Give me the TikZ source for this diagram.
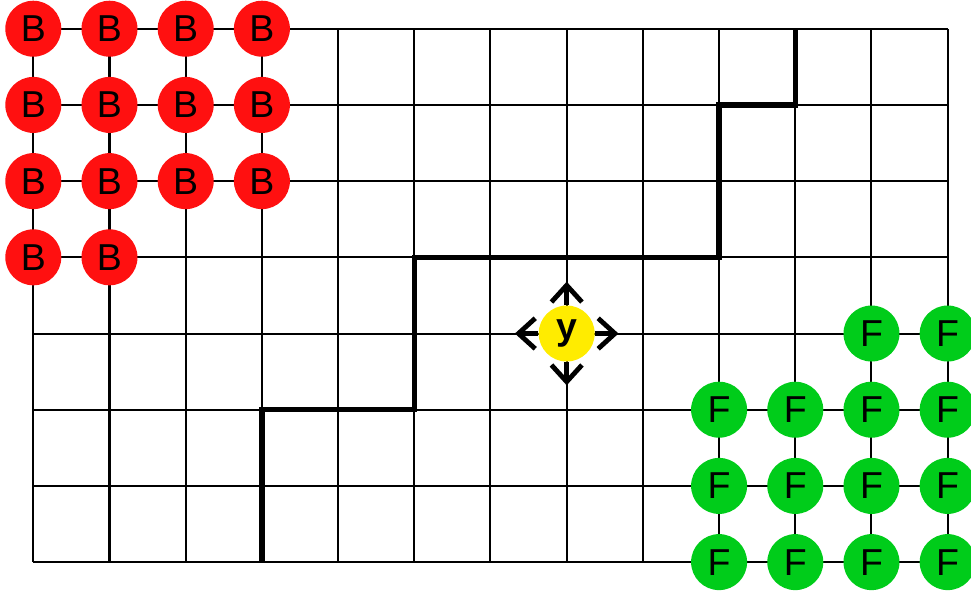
\documentclass[tikz,border=0pt]{standalone}
\usepackage{fontspec}
\setmainfont{Liberation Sans}
\usepackage{xcolor}
\usepackage{tikz}
\usetikzlibrary{arrows.meta}
\definecolor{bgred}{RGB}{255,16,16}
\definecolor{fggreen}{RGB}{0,204,26}
\definecolor{pyellow}{RGB}{255,236,0}
\tikzset{
  lattice/.style={line width=0.75pt, black},
  seed/.style={circle, inner sep=0pt, minimum size=7.35mm, font=\fontsize{14}{14}\selectfont},
  bseed/.style={seed, fill=bgred},
  fseed/.style={seed, fill=fggreen},
  probe/.style={seed, fill=pyellow, font=\fontsize{14}{14}\selectfont\bfseries},
  cut/.style={line width=2pt, line join=miter},
  move/.style={-{Straight Barb[length=2.2mm, width=4mm, line width=1.8pt]}, line width=2pt}
}
\begin{document}
\begin{tikzpicture}
    \useasboundingbox (-0.437,-0.394) rectangle (12.306,7.377);
    % pixel lattice
    \draw[lattice] (0,0) grid (12,7);
    % min cut
    \draw[cut] (3,0) -- (3,2) -- (5,2) -- (5,4) -- (9,4) -- (9,6) -- (10,6) -- (10,7);
    % background seeds
    \foreach \r in {7,6,5}
      \foreach \c in {0,...,3}
        \node[bseed] (b-\c-\r) at (\c,\r) {B};
    \foreach \c in {0,1}
      \node[bseed] (b-\c-4) at (\c,4) {B};
    % foreground seeds
    \foreach \c in {11,12}
      \node[fseed] (f-\c-3) at (\c,3) {F};
    \foreach \r in {2,1,0}
      \foreach \c in {9,...,12}
        \node[fseed] (f-\c-\r) at (\c,\r) {F};
    % unknown pixel and its moves
    \node[probe] (y) at (7,3) {y};
    \coordinate (yn) at (7,3.68);
    \coordinate (ys) at (7,2.32);
    \coordinate (yw) at (6.32,3);
    \coordinate (ye) at (7.68,3);
    \foreach \d in {yn,ys,yw,ye}
      \draw[move] (y) -- (\d);
\end{tikzpicture}
\end{document}
